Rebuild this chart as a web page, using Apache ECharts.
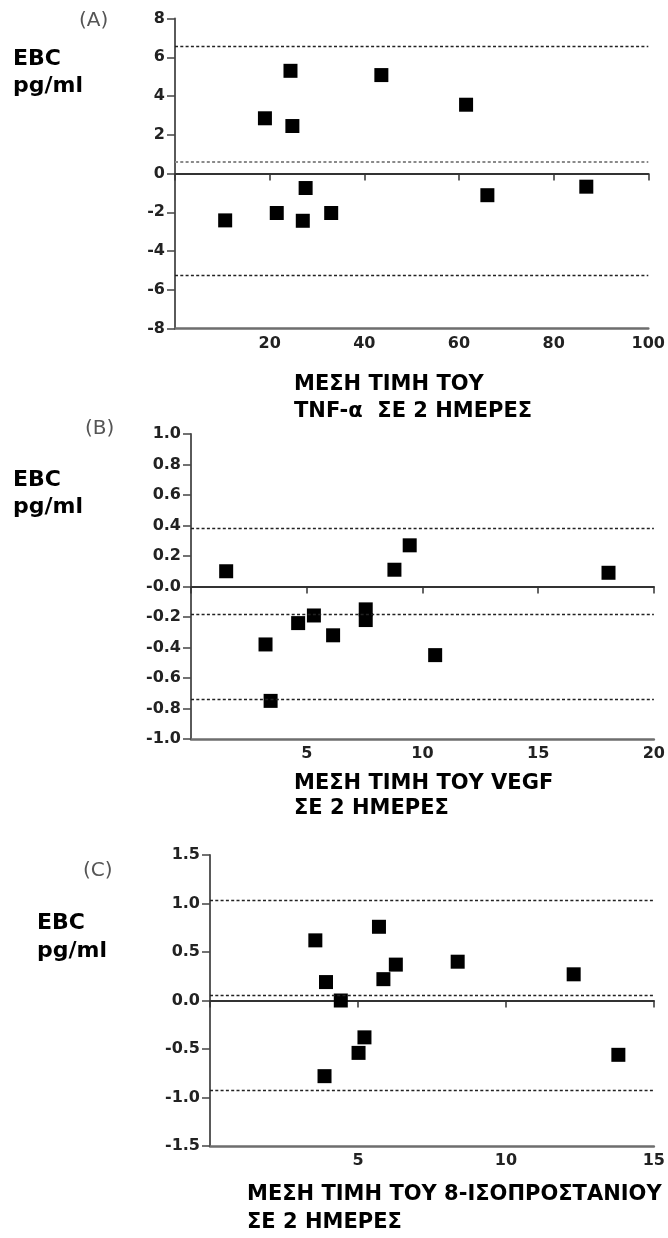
<!DOCTYPE html>
<html>
<head>
<meta charset="utf-8">
<script src="https://cdn.jsdelivr.net/npm/echarts@6/dist/echarts.min.js"></script>
<style>
html,body{margin:0;padding:0;background:#fff;}
#chart{width:668px;height:1238px;}
</style>
</head>
<body>
<div id="chart"></div>
<script>
// Panel A: TNF-α
const tnfX = [10.6, 19, 24.4, 24.8, 21.5, 27, 27.6, 33, 43.6, 61.5, 66, 86.9];
const tnfY = [-2.42, 2.85, 5.3, 2.45, -2.04, -2.44, -0.75, -2.04, 5.08, 3.55, -1.12, -0.68];
const tnfLines = [6.55, 0.62, -5.25];
// Panel B: VEGF
const vegfX = [1.52, 3.22, 3.44, 4.63, 5.31, 6.14, 7.55, 7.55, 8.79, 9.45, 10.55, 18.04];
const vegfY = [0.10, -0.38, -0.75, -0.24, -0.19, -0.32, -0.15, -0.22, 0.11, 0.27, -0.45, 0.09];
const vegfLines = [0.38, -0.18, -0.74];
// Panel C: 8-isoprostane
const isoX = [3.56, 3.92, 3.87, 4.42, 5.02, 5.22, 5.71, 5.86, 6.28, 8.37, 12.29, 13.8];
const isoY = [0.62, 0.19, -0.78, 0.0, -0.54, -0.38, 0.76, 0.22, 0.37, 0.40, 0.27, -0.56];
const isoLines = [1.03, 0.05, -0.925];

const panelLabels = ['(A)', '(B)', '(C)'];
const yTitle = ['EBC', 'pg/ml'];
const xTitles = [
  ['ΜΕΣΗ ΤΙΜΗ ΤΟΥ', 'TNF-α  ΣΕ 2 ΗΜΕΡΕΣ'],
  ['ΜΕΣΗ ΤΙΜΗ ΤΟΥ VEGF', 'ΣΕ 2 ΗΜΕΡΕΣ'],
  ['ΜΕΣΗ ΤΙΜΗ ΤΟΥ 8-ΙΣΟΠΡΟΣΤΑΝΙΟΥ', 'ΣΕ 2 ΗΜΕΡΕΣ']
];

const panels = [
  {x: tnfX, y: tnfY, lines: tnfLines, xMin: 0, xMax: 100, xInt: 20, yMin: -8, yMax: 8, yInt: 2,
   fmt: v => String(Math.round(v)), grid: {left: 175, top: 18.5, width: 477, height: 310}, meanGray: true},
  {x: vegfX, y: vegfY, lines: vegfLines, xMin: 0, xMax: 20, xInt: 5, yMin: -1, yMax: 1, yInt: 0.2,
   fmt: v => Math.abs(v) < 1e-9 ? '-0.0' : v.toFixed(1), grid: {left: 191, top: 434, width: 468, height: 305}},
  {x: isoX, y: isoY, lines: isoLines, xMin: 0, xMax: 15, xInt: 5, yMin: -1.5, yMax: 1.5, yInt: 0.5,
   fmt: v => Math.abs(v) < 1e-9 ? '0.0' : v.toFixed(1), grid: {left: 210, top: 855, width: 445, height: 291}}
];

const tickFont = {fontFamily: 'DejaVu Sans', fontWeight: 'bold', fontSize: 16, color: '#222'};
const grids = [], xAxes = [], yAxes = [], series = [];
panels.forEach((p, i) => {
  grids.push(Object.assign({containLabel: false}, p.grid));
  xAxes.push({
    gridIndex: i, type: 'value', min: p.xMin, max: p.xMax, interval: p.xInt, position: 'bottom',
    axisLine: {show: true, onZero: false, lineStyle: {color: '#6e6e6e', width: 2.5}},
    axisTick: {show: false},
    axisLabel: Object.assign({showMinLabel: false, margin: 7}, tickFont),
    splitLine: {show: false}
  });
  xAxes.push({
    gridIndex: i, type: 'value', min: p.xMin, max: p.xMax, interval: p.xInt, position: 'top',
    axisLine: {show: true, onZero: true, lineStyle: {color: '#333', width: 2}},
    axisTick: {show: true, inside: true, length: 7, lineStyle: {color: '#333', width: 1.5}},
    axisLabel: {show: false},
    splitLine: {show: false}
  });
  yAxes.push({
    gridIndex: i, type: 'value', min: p.yMin, max: p.yMax, interval: p.yInt,
    axisLine: {show: true, onZero: false, lineStyle: {color: '#5a5a5a', width: 2}},
    axisTick: {show: true, length: 8, lineStyle: {color: '#444', width: 1.5}},
    axisLabel: Object.assign({margin: 10, formatter: p.fmt}, tickFont),
    splitLine: {show: false}
  });
  series.push({
    type: 'scatter', xAxisIndex: 2 * i, yAxisIndex: i,
    data: p.x.map((xv, k) => [xv, p.y[k]]),
    symbol: 'rect', symbolSize: 14,
    itemStyle: {color: '#000', opacity: 1},
    silent: true,
    markLine: {
      silent: true, symbol: 'none', label: {show: false}, animation: false,
      data: p.lines.map((v, k) => ({
        yAxis: v,
        lineStyle: (p.meanGray && k === 1)
          ? {type: [3, 2.3], color: '#8a8a8a', width: 2}
          : {type: [3, 2.3], color: '#222', width: 1.4}
      }))
    }
  });
});

const textEls = [];
const lblPos = [[79, 21.5], [85, 430], [83, 872]];
const yTitlePos = [[13, 68, 95], [13, 489, 516.5], [37, 932.7, 960]];
const xTitlePos = [[294, 393.3, 420], [294, 791.7, 816.7], [247, 1203.3, 1231]];
panelLabels.forEach((t, i) => {
  textEls.push({type: 'text', left: lblPos[i][0], top: lblPos[i][1] - 11,
    style: {text: t, font: '20px "DejaVu Sans"', fill: '#555'}});
  textEls.push({type: 'text', left: yTitlePos[i][0], top: yTitlePos[i][1] - 20,
    style: {text: yTitle[0], font: 'bold 22px "DejaVu Sans"', fill: '#000'}});
  textEls.push({type: 'text', left: yTitlePos[i][0], top: yTitlePos[i][2] - 20,
    style: {text: yTitle[1], font: 'bold 22px "DejaVu Sans"', fill: '#000'}});
  textEls.push({type: 'text', left: xTitlePos[i][0], top: xTitlePos[i][1] - 19,
    style: {text: xTitles[i][0], font: 'bold 21px "DejaVu Sans"', fill: '#000'}});
  textEls.push({type: 'text', left: xTitlePos[i][0], top: xTitlePos[i][2] - 19,
    style: {text: xTitles[i][1], font: 'bold 21px "DejaVu Sans"', fill: '#000'}});
});

const chart = echarts.init(document.getElementById('chart'), null, {renderer: 'canvas'});
chart.setOption({
  animation: false,
  backgroundColor: '#fff',
  grid: grids,
  xAxis: xAxes,
  yAxis: yAxes,
  series: series,
  graphic: textEls
});
</script>
</body>
</html>
